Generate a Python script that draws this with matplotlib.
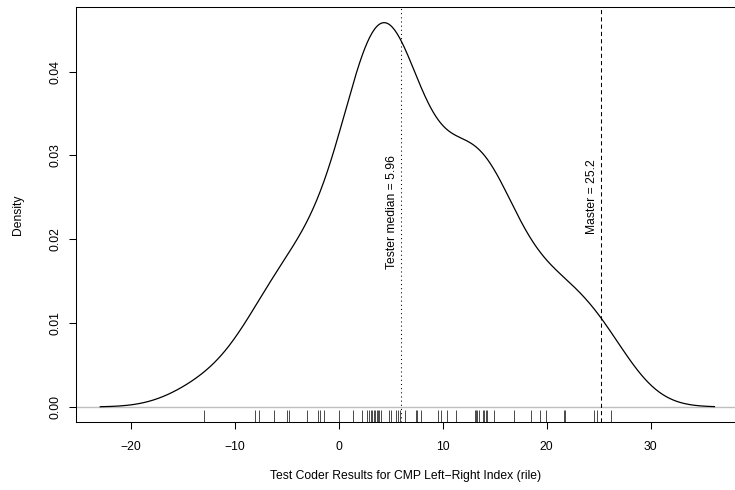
import numpy as np
import matplotlib
matplotlib.use("Agg")
import matplotlib.pyplot as plt

plt.rcParams['font.family'] = ['Liberation Sans', 'DejaVu Sans']

# rug values (individual test coder results)
scores = [-13.0, -8.1, -7.7, -6.2, -5.0, -4.75, -3.1, -2.0, -1.85, -1.4, 0.0,
          1.4, 2.2, 2.75, 2.9, 3.07, 3.2, 3.35, 3.47, 3.64, 3.76, 3.89, 4.1,
          4.85, 5.0, 5.5, 5.7, 5.92, 6.35, 7.4, 7.5, 7.87, 9.56, 9.8, 10.4,
          11.3, 13.1, 13.2, 13.3, 13.45, 13.85, 13.97, 14.17, 14.3, 14.97,
          16.85, 18.45, 19.36, 19.94, 21.7, 21.8, 24.55, 24.85, 26.2]
tester_median = 5.96
master = 25.2
xticks = [-20, -10, 0, 10, 20, 30]
yticks = [0.00, 0.01, 0.02, 0.03, 0.04]
xlabel = "Test Coder Results for CMP Left\u2212Right Index (rile)"
ylabel = "Density"
median_label = "Tester median = 5.96"
master_label = "Master = 25.2"

# R-style density (gaussian kernel, bw.nrd0)
x = np.asarray(scores)
n = len(x)
iqr = np.percentile(x, 75) - np.percentile(x, 25)
bw = 0.9 * min(np.std(x, ddof=1), iqr / 1.34) * n ** -0.2
grid = np.linspace(x.min() - 3 * bw, x.max() + 3 * bw, 512)
dens = np.exp(-0.5 * ((grid[:, None] - x[None, :]) / bw) ** 2).sum(axis=1) / (n * bw * np.sqrt(2 * np.pi))

W, H = 735, 490
fig = plt.figure(figsize=(W / 100, H / 100), dpi=100)
left_px, right_px, top_px, bot_px = 75.7, 739.0, 7.3, 422.3
ax = fig.add_axes([left_px / W, 1 - bot_px / H, (right_px - left_px) / W, (bot_px - top_px) / H])

xr = grid.max() - grid.min()
ax.set_xlim(grid.min() - 0.04 * xr, grid.max() + 0.04 * xr)
p = dens.max()
ax.set_ylim(-0.04 * p, 1.04 * p)

ax.axhline(0, color='#BEBEBE', lw=1.0, zorder=1)
ax.plot(grid, dens, color='black', lw=0.9, zorder=3)

# rug
for v in scores:
    ax.plot([v, v], [0, 0.03], transform=ax.get_xaxis_transform(), color='black', lw=0.5,
            solid_capstyle='butt', zorder=2)

ax.axvline(tester_median, color='black', lw=0.75, linestyle=(0, (1, 3)), zorder=2)
ax.axvline(master, color='black', lw=0.75, linestyle=(0, (4, 3)), zorder=2)

fs = 8.7
ax.annotate(median_label, xy=(tester_median, 0.0233), xytext=(-2, 0), textcoords='offset points',
            rotation=90, ha='right', va='center', fontsize=fs)
ax.annotate(master_label, xy=(master, 0.0251), xytext=(-2, 0), textcoords='offset points',
            rotation=90, ha='right', va='center', fontsize=fs)

ax.set_xticks(xticks)
ax.set_xticklabels([f"{t}".replace('-', '\u2212') for t in xticks])
ax.set_yticks(yticks)
ax.set_yticklabels([f"{t:.2f}" for t in yticks], rotation=90, va='center')
ax.tick_params(axis='both', direction='out', length=5.3, width=0.75, labelsize=fs)
ax.tick_params(axis='x', pad=8)
ax.tick_params(axis='y', pad=5)
for s in ax.spines.values():
    s.set_linewidth(0.75)

fig.text(0.5 * (left_px + 735) / W, 1 - 476 / H, xlabel, ha='center', va='center', fontsize=fs)
fig.text(18 / W, 1 - 214.8 / H, ylabel, ha='center', va='center', rotation=90, fontsize=fs)

fig.savefig("out.png", dpi=100)
